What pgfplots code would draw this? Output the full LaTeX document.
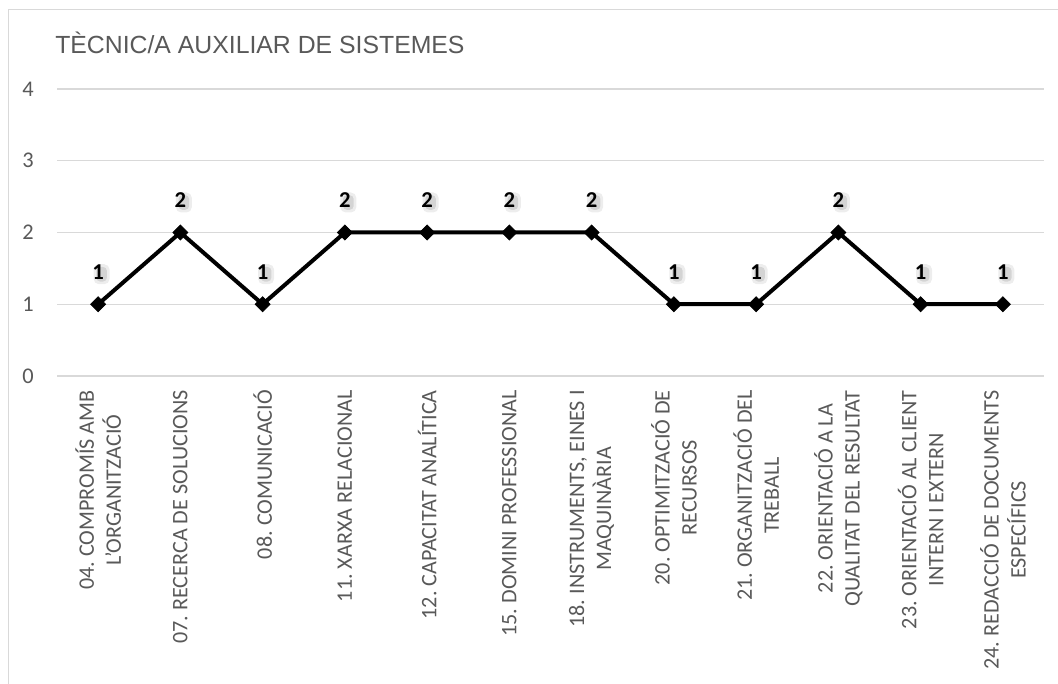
\documentclass[border=0pt]{standalone}
\usepackage{pgfplots}
\pgfplotsset{compat=1.18}
\usepackage{fontspec}
\setmainfont{Carlito}
\newfontfamily\titlefont{Liberation Sans}
\definecolor{gridc}{HTML}{D9D9D9}
\definecolor{txt}{HTML}{595959}
\frenchspacing
\begin{document}
\begin{tikzpicture}
\useasboundingbox (0,0) rectangle (793.5pt,513pt);
\fill[white] (0,0) rectangle (793.5pt,513pt);
\draw[gridc, line width=0.75pt] (6pt,0) -- (6pt,505.5pt) -- (800pt,505.5pt);
\node[anchor=base west, inner sep=0pt, text=txt, font=\titlefont\fontsize{18.6}{22}\selectfont] at (41.25pt,473pt) {TÈCNIC/A AUXILIAR DE SISTEMES};
\begin{axis}[
  at={(42.75pt,231pt)}, anchor=south west,
  scale only axis, width=740.25pt, height=215.25pt,
  xmin=-0.5, xmax=11.5, ymin=0, ymax=4,
  ytick={0,1,2,3,4},
  xtick={0,...,11},
  xticklabels={
    {04. COMPROMÍS AMB\\L’ORGANITZACIÓ},
    {07. RECERCA DE SOLUCIONS},
    {08. COMUNICACIÓ},
    {11. XARXA RELACIONAL},
    {12. CAPACITAT ANALÍTICA},
    {15. DOMINI PROFESSIONAL},
    {18. INSTRUMENTS, EINES I\\MAQUINÀRIA},
    {20. OPTIMITZACIÓ DE\\RECURSOS},
    {21. ORGANITZACIÓ DEL\\TREBALL},
    {22. ORIENTACIÓ A LA\\QUALITAT DEL RESULTAT},
    {23. ORIENTACIÓ AL CLIENT\\INTERN I EXTERN},
    {24. REDACCIÓ DE DOCUMENTS\\ESPECÍFICS}},
  axis line style={draw=none},
  major tick length=0pt,
  ymajorgrids, grid style={gridc, line width=1.1pt},
  /pgf/number format/assume math mode=true,
  yticklabel style={anchor=east, inner sep=0pt, text=txt, font=\fontsize{16.8}{20.25}\selectfont},
  yticklabel shift=17.25pt,
  xticklabel style={rotate=90, anchor=east, inner sep=0pt, align=center, text=txt, font=\fontsize{16.6}{20.25}\selectfont},
  xticklabel shift=10.5pt,
  clip=false,
]
\addplot[draw=none, mark=none, nodes near coords={},
  every node near coord/.append style={anchor=center, inner sep=0pt, minimum width=12pt, minimum height=15pt, rounded corners=4pt, yshift=22.5pt, xshift=2.6pt, fill=black, opacity=0.07}]
  coordinates {(0,1) (1,2) (2,1) (3,2) (4,2) (5,2) (6,2) (7,1) (8,1) (9,2) (10,1) (11,1)};
\addplot[draw=none, mark=none, nodes near coords={},
  every node near coord/.append style={anchor=center, inner sep=0pt, minimum width=8pt, minimum height=11pt, rounded corners=3pt, yshift=22.5pt, xshift=2.6pt, fill=black, opacity=0.10}]
  coordinates {(0,1) (1,2) (2,1) (3,2) (4,2) (5,2) (6,2) (7,1) (8,1) (9,2) (10,1) (11,1)};
\addplot[black, line width=3pt, mark=square*, mark size=4pt,
  mark options={rotate=45, line width=0.5pt, fill=black},
  nodes near coords,
  every node near coord/.append style={anchor=base, inner sep=0pt, yshift=18.75pt, text=black, font=\bfseries\fontsize{17}{20}\selectfont}]
  coordinates {(0,1) (1,2) (2,1) (3,2) (4,2) (5,2) (6,2) (7,1) (8,1) (9,2) (10,1) (11,1)};
\end{axis}
\end{tikzpicture}
\end{document}
